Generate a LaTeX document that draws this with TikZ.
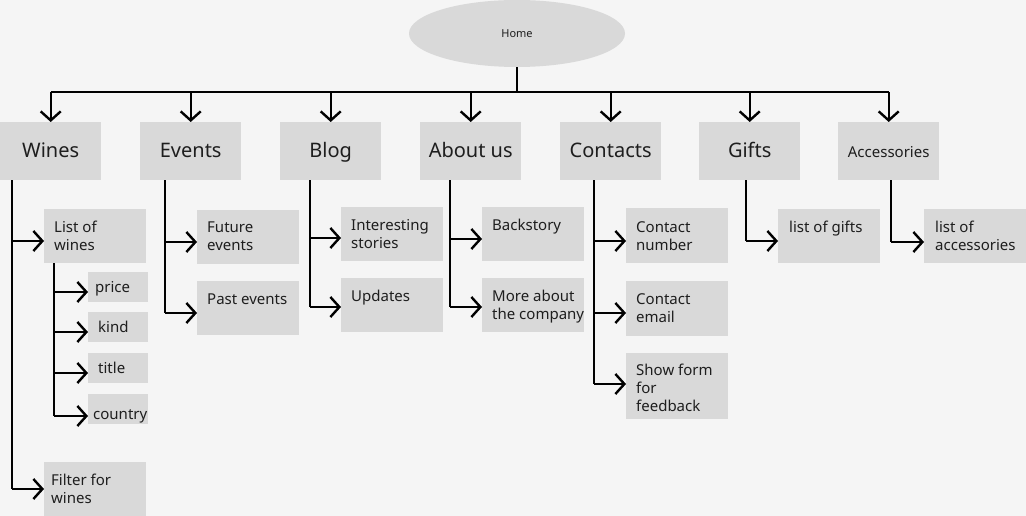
\documentclass[tikz,border=0pt]{standalone}
\usepackage{fontspec}
\setmainfont{Noto Sans}
\usetikzlibrary{arrows.meta,shapes.geometric}
\definecolor{bg}{HTML}{F5F5F5}
\definecolor{boxgray}{HTML}{D9D9D9}
\definecolor{ink}{HTML}{1E1E1E}

% left-aligned multi-line label whose reference point is its first baseline
\newcommand\lbl[1]{\parbox[t]{110pt}{\raggedright #1}}
% arrow from a vertical stem to a box, #3 = drop below the box's top edge
\newcommand\twig[3]{%
  \coordinate (#2-in) at ([yshift=-#3pt]#2.north west);
  \draw[arr] (#1 |- #2-in) -- (#2-in);}

\begin{document}
\begin{tikzpicture}[x=1pt,y=-1pt,
  box/.style={fill=boxgray, draw=none, inner sep=0pt, anchor=north west,
    minimum width=102pt, minimum height=54pt},
  topbox/.style={box, minimum width=101pt, minimum height=58pt,
    font=\fontsize{20}{24}\selectfont, text=ink,
    text height=15pt, text depth=2.4pt},
  leaf/.style={text=ink, inner sep=0pt, anchor=base west,
    font=\fontsize{15}{18}\selectfont},
  stem/.style={line width=1.4pt},
  arr/.style={line width=2.4pt, -{Straight Barb[length=9pt,width=20pt]}},
]
\useasboundingbox[fill=bg] (0,0) rectangle (1026,516);

% root
\node[ellipse, fill=boxgray, minimum width=216pt, minimum height=67pt,
  inner sep=0pt, font=\fontsize{11}{13}\selectfont, text=ink] (home) at (517,33.5) {Home};

% top-level sections
\node[topbox] (wines)    at (0,122)   {Wines};
\node[topbox] (events)   at (140,122) {Events};
\node[topbox] (blog)     at (280,122) {Blog};
\node[topbox] (about)    at (420,122) {About us};
\node[topbox] (contacts) at (560,122) {Contacts};
\node[topbox] (gifts)    at (699,122) {Gifts};
\node[topbox, font=\fontsize{15}{18}\selectfont] (acc) at (838,122) {Accessories};

% bus from the root to every section
\coordinate (bus) at (517,92);
\draw[stem] (home.south) -- (bus);
\draw[stem] (wines.north |- bus) -- (acc.north |- bus);
\foreach \n in {wines,events,blog,about,contacts,gifts,acc}
  \draw[arr] (\n.north |- bus) -- (\n.north);

% second-level boxes
\node[box] (listw)   at (44,209) {};
\node[box, minimum width=60pt, minimum height=30pt] (price)   at (88,272) {};
\node[box, minimum width=60pt, minimum height=30pt] (kind)    at (88,312) {};
\node[box, minimum width=60pt, minimum height=30pt] (title)   at (88,353) {};
\node[box, minimum width=60pt, minimum height=30pt] (country) at (88,394) {};
\node[box, minimum height=56pt] (filter) at (44,462) {};
\node[box] (future)  at (197,210) {};
\node[box] (past)    at (197,281) {};
\node[box] (stories) at (341,207) {};
\node[box] (updates) at (341,278) {};
\node[box] (backst)  at (482,207) {};
\node[box] (more)    at (482,278) {};
\node[box, minimum height=55pt] (cnum)   at (626,208) {};
\node[box, minimum height=55pt] (cemail) at (626,281) {};
\node[box, minimum height=66pt] (cform)  at (626,353) {};
\node[box] (giftl)   at (778,209) {};
\node[box] (accl)    at (924,209) {};

% labels
\node[leaf] (listw-t)   at ([shift={(10pt,-23pt)}]listw.north west)   {\lbl{List of\\wines}};
\node[leaf] (price-t)   at ([shift={(7pt,-20pt)}]price.north west)    {price};
\node[leaf] (kind-t)    at ([shift={(10pt,-20pt)}]kind.north west)    {kind};
\node[leaf] (title-t)   at ([shift={(10pt,-20pt)}]title.north west)   {title};
\node[leaf] (country-t) at ([shift={(5pt,-25pt)}]country.north west)  {country};
\node[leaf] (filter-t)  at ([shift={(7pt,-23pt)}]filter.north west)   {\lbl{Filter for\\wines}};
\node[leaf] (future-t)  at ([shift={(10pt,-23pt)}]future.north west)  {\lbl{Future\\events}};
\node[leaf] (past-t)    at ([shift={(10pt,-23pt)}]past.north west)    {Past events};
\node[leaf] (stories-t) at ([shift={(10pt,-23pt)}]stories.north west) {\lbl{Interesting\\stories}};
\node[leaf] (updates-t) at ([shift={(10pt,-23pt)}]updates.north west) {Updates};
\node[leaf] (backst-t)  at ([shift={(10pt,-23pt)}]backst.north west)  {Backstory};
\node[leaf] (more-t)    at ([shift={(10pt,-23pt)}]more.north west)    {\lbl{More about\\the company}};
\node[leaf] (cnum-t)    at ([shift={(10pt,-24pt)}]cnum.north west)    {\lbl{Contact\\number}};
\node[leaf] (cemail-t)  at ([shift={(10pt,-23pt)}]cemail.north west)  {\lbl{Contact\\email}};
\node[leaf] (cform-t)   at ([shift={(10pt,-22pt)}]cform.north west)   {\lbl{Show form\\for\\feedback}};
\node[leaf] (giftl-t)   at ([shift={(11pt,-23pt)}]giftl.north west)   {list of gifts};
\node[leaf] (accl-t)    at ([shift={(11pt,-23pt)}]accl.north west)    {\lbl{list of\\accessories}};

% stems below each section
\coordinate (ws) at ([xshift=12pt]wines.south west);
\coordinate (ls) at ([xshift=10pt]listw.south west);
\coordinate (es) at ([xshift=25pt]events.south west);
\coordinate (bs) at ([xshift=30pt]blog.south west);
\coordinate (as) at ([xshift=30pt]about.south west);
\coordinate (cs) at ([xshift=34pt]contacts.south west);
\coordinate (gs) at ([xshift=47pt]gifts.south west);
\coordinate (xs) at ([xshift=53pt]acc.south west);

\twig{ws}{listw}{32}
\twig{ws}{filter}{27}
\twig{ls}{price}{20}
\twig{ls}{kind}{20}
\twig{ls}{title}{20}
\twig{ls}{country}{22}
\twig{es}{future}{32}
\twig{es}{past}{32}
\twig{bs}{stories}{31}
\twig{bs}{updates}{29}
\twig{as}{backst}{32}
\twig{as}{more}{29}
\twig{cs}{cnum}{33}
\twig{cs}{cemail}{32}
\twig{cs}{cform}{31}
\twig{gs}{giftl}{32}
\twig{xs}{accl}{33}

\draw[stem] (ws) -- (ws |- filter-in);
\draw[stem] (ls) -- (ls |- country-in);
\draw[stem] (es) -- (es |- past-in);
\draw[stem] (bs) -- (bs |- updates-in);
\draw[stem] (as) -- (as |- more-in);
\draw[stem] (cs) -- (cs |- cform-in);
\draw[stem] (gs) -- (gs |- giftl-in);
\draw[stem] (xs) -- (xs |- accl-in);
\end{tikzpicture}
\end{document}
